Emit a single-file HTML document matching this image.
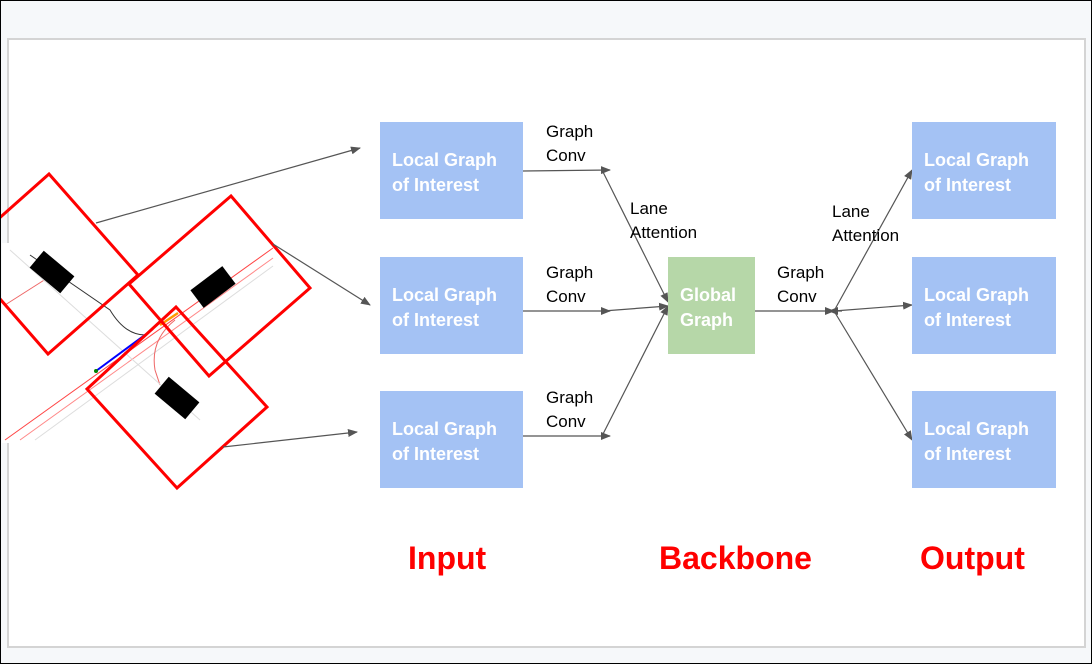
<!DOCTYPE html>
<html><head><meta charset="utf-8"><style>
html,body{margin:0;padding:0;}
body{width:1092px;height:664px;position:relative;overflow:hidden;background:#f6f8fa;font-family:"Liberation Sans","DejaVu Sans",sans-serif;}
.frame{position:absolute;left:0;top:0;width:1090px;height:662px;border:1px solid #000;}
.panel{position:absolute;left:7px;top:38px;width:1075px;height:606px;background:#fff;border:2px solid #d4d4d4;}
.box{position:absolute;background:#a4c2f4;color:#fff;font-weight:bold;font-size:18px;line-height:25px;box-sizing:border-box;padding:26px 0 0 12px;}
.g{background:#b6d7a8;}
.lbl{position:absolute;font-size:17px;line-height:24px;color:#000;}
.big{position:absolute;color:#f00;font-weight:bold;font-size:32px;top:540px;}
</style></head><body>
<div class="frame"></div>
<div class="panel"></div>
<svg style="position:absolute;left:0;top:0" width="1092" height="664">
<defs><marker id="a" markerWidth="10" markerHeight="8" refX="9" refY="4" orient="auto" markerUnits="userSpaceOnUse"><path d="M0,0L10,4L0,8z" fill="#555"/></marker>
<clipPath id="c"><rect x="1" y="40" width="1080" height="600"/></clipPath></defs>
<g clip-path="url(#c)">
<rect x="2" y="243" width="270" height="200" fill="#fff"/>
<g stroke-width="1" fill="none">
<line x1="5" y1="440" x2="273" y2="248" stroke="#f44"/>
<line x1="20" y1="440" x2="273" y2="258" stroke="#f88"/>
<line x1="35" y1="440" x2="273" y2="266" stroke="#ddd"/>
<line x1="5" y1="305" x2="60" y2="270" stroke="#e66"/>
<path d="M30,255 L110,310 Q125,335 145,335" stroke="#333"/>
<path d="M175,320 Q150,340 155,370 L160,385" stroke="#e66"/>
<path d="M10,250 L200,420" stroke="#ddd"/>
<line x1="96" y1="371" x2="153" y2="329" stroke="#00f" stroke-width="2"/>
<line x1="160" y1="325" x2="178" y2="313" stroke="#f90" stroke-width="2.5"/>
</g>
<circle cx="96" cy="371" r="2" fill="green"/>
<rect x="-20" y="-11" width="40" height="22" fill="#000" transform="translate(52,272) rotate(40)"/>
<rect x="-20" y="-11" width="40" height="22" fill="#000" transform="translate(213,287) rotate(-37)"/>
<rect x="-20" y="-11" width="40" height="22" fill="#000" transform="translate(177,398) rotate(40)"/>
<g fill="none" stroke="#f00" stroke-width="3">
<polygon points="49,174 138,275 48,354 -40,253"/>
<polygon points="231,196 310,288 209,376 129,284"/>
<polygon points="176,307 267,407 177,488 87,389"/>
</g>
</g>
<g stroke="#555" stroke-width="1.2" fill="none" marker-end="url(#a)">
<line x1="96" y1="223" x2="360" y2="148"/>
<line x1="273" y1="244" x2="370" y2="305"/>
<line x1="223" y1="447" x2="357" y2="432"/>
<line x1="523" y1="171" x2="610" y2="170"/>
<line x1="602" y1="170" x2="668" y2="302"/>
<line x1="523" y1="311" x2="610" y2="311"/>
<line x1="603" y1="311" x2="668" y2="306"/>
<line x1="523" y1="436" x2="610" y2="436"/>
<line x1="602" y1="436" x2="668" y2="306"/>
<line x1="755" y1="311" x2="834" y2="311"/>
<line x1="842" y1="311" x2="829" y2="311"/>
<line x1="834" y1="311" x2="912" y2="170"/>
<line x1="834" y1="311" x2="912" y2="305"/>
<line x1="834" y1="311" x2="912" y2="440"/>
</g>
</svg>
<div class="box" style="left:380px;top:122px;width:143px;height:97px">Local Graph<br>of Interest</div>
<div class="box" style="left:380px;top:257px;width:143px;height:97px">Local Graph<br>of Interest</div>
<div class="box" style="left:380px;top:391px;width:143px;height:97px">Local Graph<br>of Interest</div>
<div class="box g" style="left:668px;top:257px;width:87px;height:97px">Global<br>Graph</div>
<div class="box" style="left:912px;top:122px;width:144px;height:97px">Local Graph<br>of Interest</div>
<div class="box" style="left:912px;top:257px;width:144px;height:97px">Local Graph<br>of Interest</div>
<div class="box" style="left:912px;top:391px;width:144px;height:97px">Local Graph<br>of Interest</div>
<div class="lbl" style="left:546px;top:120px">Graph<br>Conv</div>
<div class="lbl" style="left:546px;top:261px">Graph<br>Conv</div>
<div class="lbl" style="left:546px;top:386px">Graph<br>Conv</div>
<div class="lbl" style="left:630px;top:197px">Lane<br>Attention</div>
<div class="lbl" style="left:777px;top:261px">Graph<br>Conv</div>
<div class="lbl" style="left:832px;top:200px">Lane<br>Attention</div>
<div class="big" style="left:408px">Input</div>
<div class="big" style="left:659px">Backbone</div>
<div class="big" style="left:920px">Output</div>
</body></html>
